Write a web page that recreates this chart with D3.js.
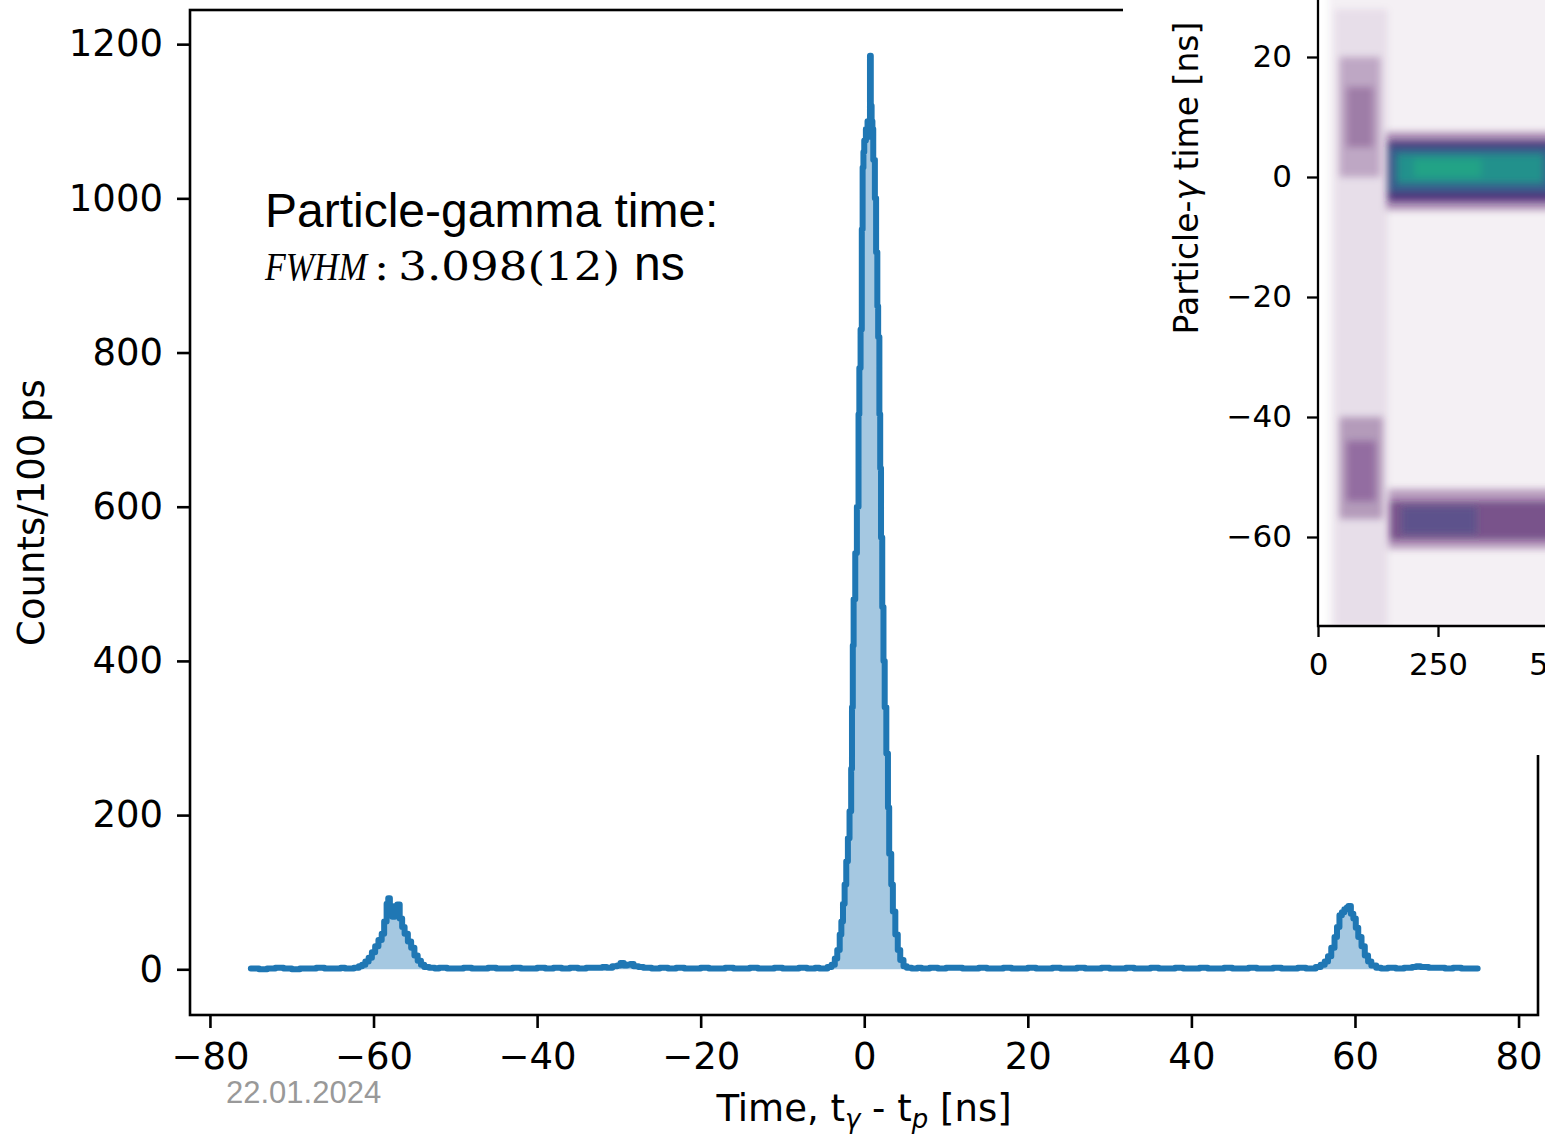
<!DOCTYPE html>
<html>
<head>
<meta charset="utf-8">
<script src="https://cdn.jsdelivr.net/npm/d3@7"></script>
<style>
  body { margin: 0; background: #fff; }
  svg { display: block; }
</style>
</head>
<body>
<svg id="chart" width="1545" height="1134"></svg>
<script>
// histogram: bin start [ns] and counts per 100 ps
const timeNs = [
  -75, -74, -73, -72, -71, -70, -69, -68, -67, -66, -65, -64, -63.5,
  -63.0, -62.4, -61.8, -61.4, -61.0, -60.6, -60.2, -59.8, -59.4, -59.0, -58.7, -58.4, -58.2,
  -58.0, -57.7, -57.4, -57.1, -56.8, -56.5, -56.2, -55.8, -55.4, -55.0, -54.6, -54.2, -53.8,
  -53.2, -52.5,
  -52, -51, -50, -49, -48, -47, -46, -45, -44, -43, -42, -41, -40, -39, -38, -37, -36, -35,
  -34, -33, -32,
  -31.5, -30.8, -30.2, -29.8, -29.4, -29.0, -28.6, -28.2, -27.6,
  -27, -26, -25, -24, -23, -22, -21, -20, -19, -18, -17, -16, -15, -14, -13, -12, -11, -10,
  -9, -8, -7, -6, -5.5,
  -5.0, -4.5, -4.0, -3.6, -3.3, -3.0, -2.8, -2.6, -2.4, -2.2, -2.0, -1.8, -1.6, -1.5, -1.4,
  -1.3, -1.1, -0.9, -0.7, -0.6, -0.45, -0.3, -0.2, -0.1, 0.0, 0.2, 0.4, 0.6, 0.7, 0.8, 0.9,
  1.0, 1.1, 1.3, 1.45, 1.6, 1.7, 1.85, 1.95, 2.05, 2.2, 2.35, 2.5, 2.7, 2.9, 3.05, 3.3, 3.5,
  3.8, 4.1, 4.4, 4.8, 5.2, 5.8,
  6.5, 7, 8, 9, 10, 11, 12, 13, 14, 15, 16, 17, 18, 19, 20, 21, 22, 23, 24, 25, 26, 27, 28,
  29, 30, 31, 32, 33, 34, 35, 36, 37, 38, 39, 40, 41, 42, 43, 44, 45, 46, 47, 48, 49, 50,
  51, 52, 53, 54,
  54.5, 55.2, 55.8, 56.3, 56.7, 57.1, 57.5, 57.8, 58.1, 58.4, 58.7, 59.0, 59.2, 59.5, 59.8,
  60.1, 60.4, 60.8, 61.2, 61.6, 62.0, 62.6, 63.2,
  64, 65, 66, 67, 67.5, 68, 69, 70, 71, 72, 73, 74, 75
];
const counts = [
  1, 0, 1, 2, 1, 0, 1, 1, 2, 1, 1, 2, 1,
  1, 2, 4, 6, 10, 15, 22, 30, 38, 46, 62, 85, 92,
  78, 68, 82, 84, 66, 55, 46, 36, 28, 18, 11, 6, 3,
  2, 1,
  2, 1, 1, 2, 1, 1, 2, 1, 1, 2, 1, 1, 2, 1, 2, 1, 2, 1,
  2, 2, 3,
  2, 4, 5, 8, 5, 6, 7, 4, 3,
  2, 1, 2, 1, 2, 1, 1, 2, 1, 1, 2, 1, 1, 2, 1, 1, 2, 1,
  1, 2, 1, 2, 1,
  1, 3, 6, 14, 25, 45, 62, 85, 110, 140, 170, 205, 260, 340, 420,
  480, 540, 600, 720, 780, 830, 960, 1040, 1060, 1075, 1090, 1100, 1080, 1185, 1120, 1100,
  1090, 1050, 1000, 930, 860, 820, 720, 650, 560, 470, 400, 340, 280, 210, 150, 110, 75,
  45, 25, 12, 4, 2, 1,
  2, 1, 2, 1, 2, 2, 1, 1, 2, 1, 1, 2, 1, 1, 2, 1, 1, 2, 1, 1, 2, 1, 1,
  2, 1, 1, 2, 1, 1, 2, 1, 1, 2, 1, 1, 2, 1, 1, 2, 1, 1, 2, 1, 1, 2,
  1, 1, 2, 1,
  1, 3, 6, 10, 17, 28, 42, 55, 70, 74, 78, 80, 82, 72, 66,
  54, 42, 30, 18, 10, 5, 2, 1,
  2, 1, 2, 3, 4, 3, 2, 2, 1, 2, 1, 1, 1
];
const xTicks = [-80, -60, -40, -20, 0, 20, 40, 60, 80];
const yTicks = [0, 200, 400, 600, 800, 1000, 1200];

// inset 2D histogram, described as density zones (x in inset units, y in ns)
const insetXTicks = [0, 250, 500];
const insetYTicks = [20, 0, -20, -40, -60];
const zoneX0 = [22, 35, 45, 60, 45, 60, 147, 150, 175, 143, 146, 150, 165, 200];
const zoneX1 = [520, 145, 130, 115, 135, 120, 520, 520, 330, 520, 520, 520, 470, 340];
const zoneY0 = [-75, -75, 0, 5, -57, -54, -62, -60.5, -59.5, -5.5, -4, -2.5, -1, 0];
const zoneY1 = [75, 28, 20, 15, -40, -44, -52, -54, -55, 7.5, 6, 5, 3.8, 3];
const zoneLevel = [0, 0, 0, 0, 0, 0.05, 0, 0.05, 0.25, 0, 0.1, 0.3, 0.5, 0.58];
const zoneCover = [0.06, 0.08, 0.25, 0.25, 0.3, 0.3, 0.35, 0.55, 0.45, 0.4, 0.9, 1, 1, 1];

const svg = d3.select('#chart');
const blue = '#1f77b4';
const font = 'DejaVu Sans, sans-serif';

const x = d3.scaleLinear().domain([-82.5, 82.5]).range([189.5, 1539]);
const y = d3.scaleLinear().domain([-59.3, 1244.3]).range([1015, 10]);

const hist = timeNs.map((t, i) => ({ t: t, c: counts[i] }));

svg.append('path')
   .datum(hist)
   .attr('fill', '#a5c8e1')
   .attr('d', d3.area().curve(d3.curveStepAfter)
                 .x(d => x(d.t)).y0(y(0)).y1(d => y(d.c)));

svg.append('path')
   .datum(hist)
   .attr('fill', 'none')
   .attr('stroke', blue)
   .attr('stroke-width', 6)
   .attr('stroke-linejoin', 'round')
   .attr('stroke-linecap', 'round')
   .attr('d', d3.line().curve(d3.curveStepAfter).x(d => x(d.t)).y(d => y(d.c)));

// axes
const fmt = d3.format('d');
const xAxis = svg.append('g')
   .attr('transform', 'translate(0,1015)')
   .call(d3.axisBottom(x).tickValues(xTicks).tickFormat(fmt)
           .tickSize(13).tickPadding(15).tickSizeOuter(0));
const yAxis = svg.append('g')
   .attr('transform', 'translate(190,0)')
   .call(d3.axisLeft(y).tickValues(yTicks).tickFormat(fmt)
           .tickSize(13).tickPadding(14).tickSizeOuter(0));
[xAxis, yAxis].forEach(g => {
  g.select('.domain').remove();
  g.selectAll('.tick line').attr('stroke', '#000').attr('stroke-width', 2.6);
  g.selectAll('.tick text').attr('font-family', font).attr('font-size', 37).attr('fill', '#000');
});

const frame = svg.append('g').attr('stroke', '#000').attr('stroke-width', 2.6).attr('fill', 'none');
frame.append('rect').attr('x', 190).attr('y', 10).attr('width', 1348).attr('height', 1005);

// axis titles
svg.append('text')
   .attr('transform', 'translate(44,512.5) rotate(-90)')
   .attr('text-anchor', 'middle')
   .attr('font-family', font).attr('font-size', 37)
   .text('Counts/100 ps');

const xl = svg.append('text')
   .attr('x', 864).attr('y', 1121)
   .attr('text-anchor', 'middle')
   .attr('font-family', font).attr('font-size', 37);
xl.append('tspan').text('Time, t');
xl.append('tspan').attr('font-size', 26).attr('font-style', 'italic').attr('dy', 7).text('γ');
xl.append('tspan').attr('dy', -7).text(' - t');
xl.append('tspan').attr('font-size', 26).attr('font-style', 'italic').attr('dy', 7).text('p');
xl.append('tspan').attr('dy', -7).text(' [ns]');

// annotation
svg.append('text')
   .attr('x', 265).attr('y', 227)
   .attr('font-family', 'Liberation Sans, Arial, sans-serif').attr('font-size', 48)
   .text('Particle-gamma time:');
const fw = svg.append('text')
   .attr('y', 280)
   .attr('font-family', 'DejaVu Serif, serif').attr('font-size', 40);
fw.append('tspan').attr('x', 265)
  .attr('font-family', 'Liberation Serif, serif').attr('font-style', 'italic')
  .attr('textLength', 102).attr('lengthAdjust', 'spacingAndGlyphs')
  .text('FWHM');
fw.append('tspan').attr('x', 374)
  .attr('textLength', 246).attr('lengthAdjust', 'spacingAndGlyphs')
  .text(':\u20093.098(12)');
fw.append('tspan').attr('x', 634)
  .attr('font-family', 'Liberation Sans, Arial, sans-serif').attr('font-size', 48)
  .text('ns');

svg.append('text')
   .attr('x', 226).attr('y', 1103)
   .attr('font-family', 'Liberation Sans, Arial, sans-serif').attr('font-size', 31)
   .attr('fill', '#999')
   .text('22.01.2024');

// ---- inset ----
svg.append('rect')
   .attr('x', 1123).attr('y', 0).attr('width', 430).attr('height', 755)
   .attr('fill', '#fff');

const ix = d3.scaleLinear().domain([0, 500]).range([1318, 1558]);
const iy = d3.scaleLinear().domain([-75, 75]).range([627, -273]);

const defs = svg.append('defs');
defs.append('clipPath').attr('id', 'inset-clip')
    .append('rect').attr('x', 1319).attr('y', -10).attr('width', 300).attr('height', 636);
defs.append('filter').attr('id', 'soft')
    .attr('x', -0.2).attr('y', -0.2).attr('width', 1.4).attr('height', 1.4)
    .append('feGaussianBlur').attr('stdDeviation', 3.5);

const zones = zoneX0.map((v, i) => ({
  x0: v, x1: zoneX1[i], y0: zoneY0[i], y1: zoneY1[i], level: zoneLevel[i], cover: zoneCover[i]
}));

svg.append('g')
   .attr('clip-path', 'url(#inset-clip)')
   .append('g')
   .attr('filter', 'url(#soft)')
   .selectAll('rect')
   .data(zones)
   .enter()
   .append('rect')
   .attr('x', d => ix(d.x0))
   .attr('y', d => iy(d.y1))
   .attr('width', d => ix(d.x1) - ix(d.x0))
   .attr('height', d => iy(d.y0) - iy(d.y1))
   .attr('fill', d => d3.interpolateViridis(d.level))
   .attr('fill-opacity', d => d.cover);

const ixAxis = svg.append('g')
   .attr('transform', 'translate(0,626)')
   .call(d3.axisBottom(ix).tickValues(insetXTicks).tickFormat(fmt)
           .tickSize(11).tickPadding(16).tickSizeOuter(0));
const iyAxis = svg.append('g')
   .attr('transform', 'translate(1318,0)')
   .call(d3.axisLeft(iy).tickValues(insetYTicks).tickFormat(fmt)
           .tickSize(11).tickPadding(15).tickSizeOuter(0));
[ixAxis, iyAxis].forEach(g => {
  g.select('.domain').remove();
  g.selectAll('.tick line').attr('stroke', '#000').attr('stroke-width', 2.3);
  g.selectAll('.tick text').attr('font-family', font).attr('font-size', 31).attr('fill', '#000');
});
svg.append('path')
   .attr('d', 'M1318,-5V626H1560')
   .attr('fill', 'none').attr('stroke', '#000').attr('stroke-width', 2.3);

const il = svg.append('text')
   .attr('transform', 'translate(1198,178) rotate(-90)')
   .attr('text-anchor', 'middle')
   .attr('font-family', font).attr('font-size', 33);
il.append('tspan').text('Particle-');
il.append('tspan').attr('font-style', 'italic').text('γ');
il.append('tspan').text(' time [ns]');
</script>
</body>
</html>
